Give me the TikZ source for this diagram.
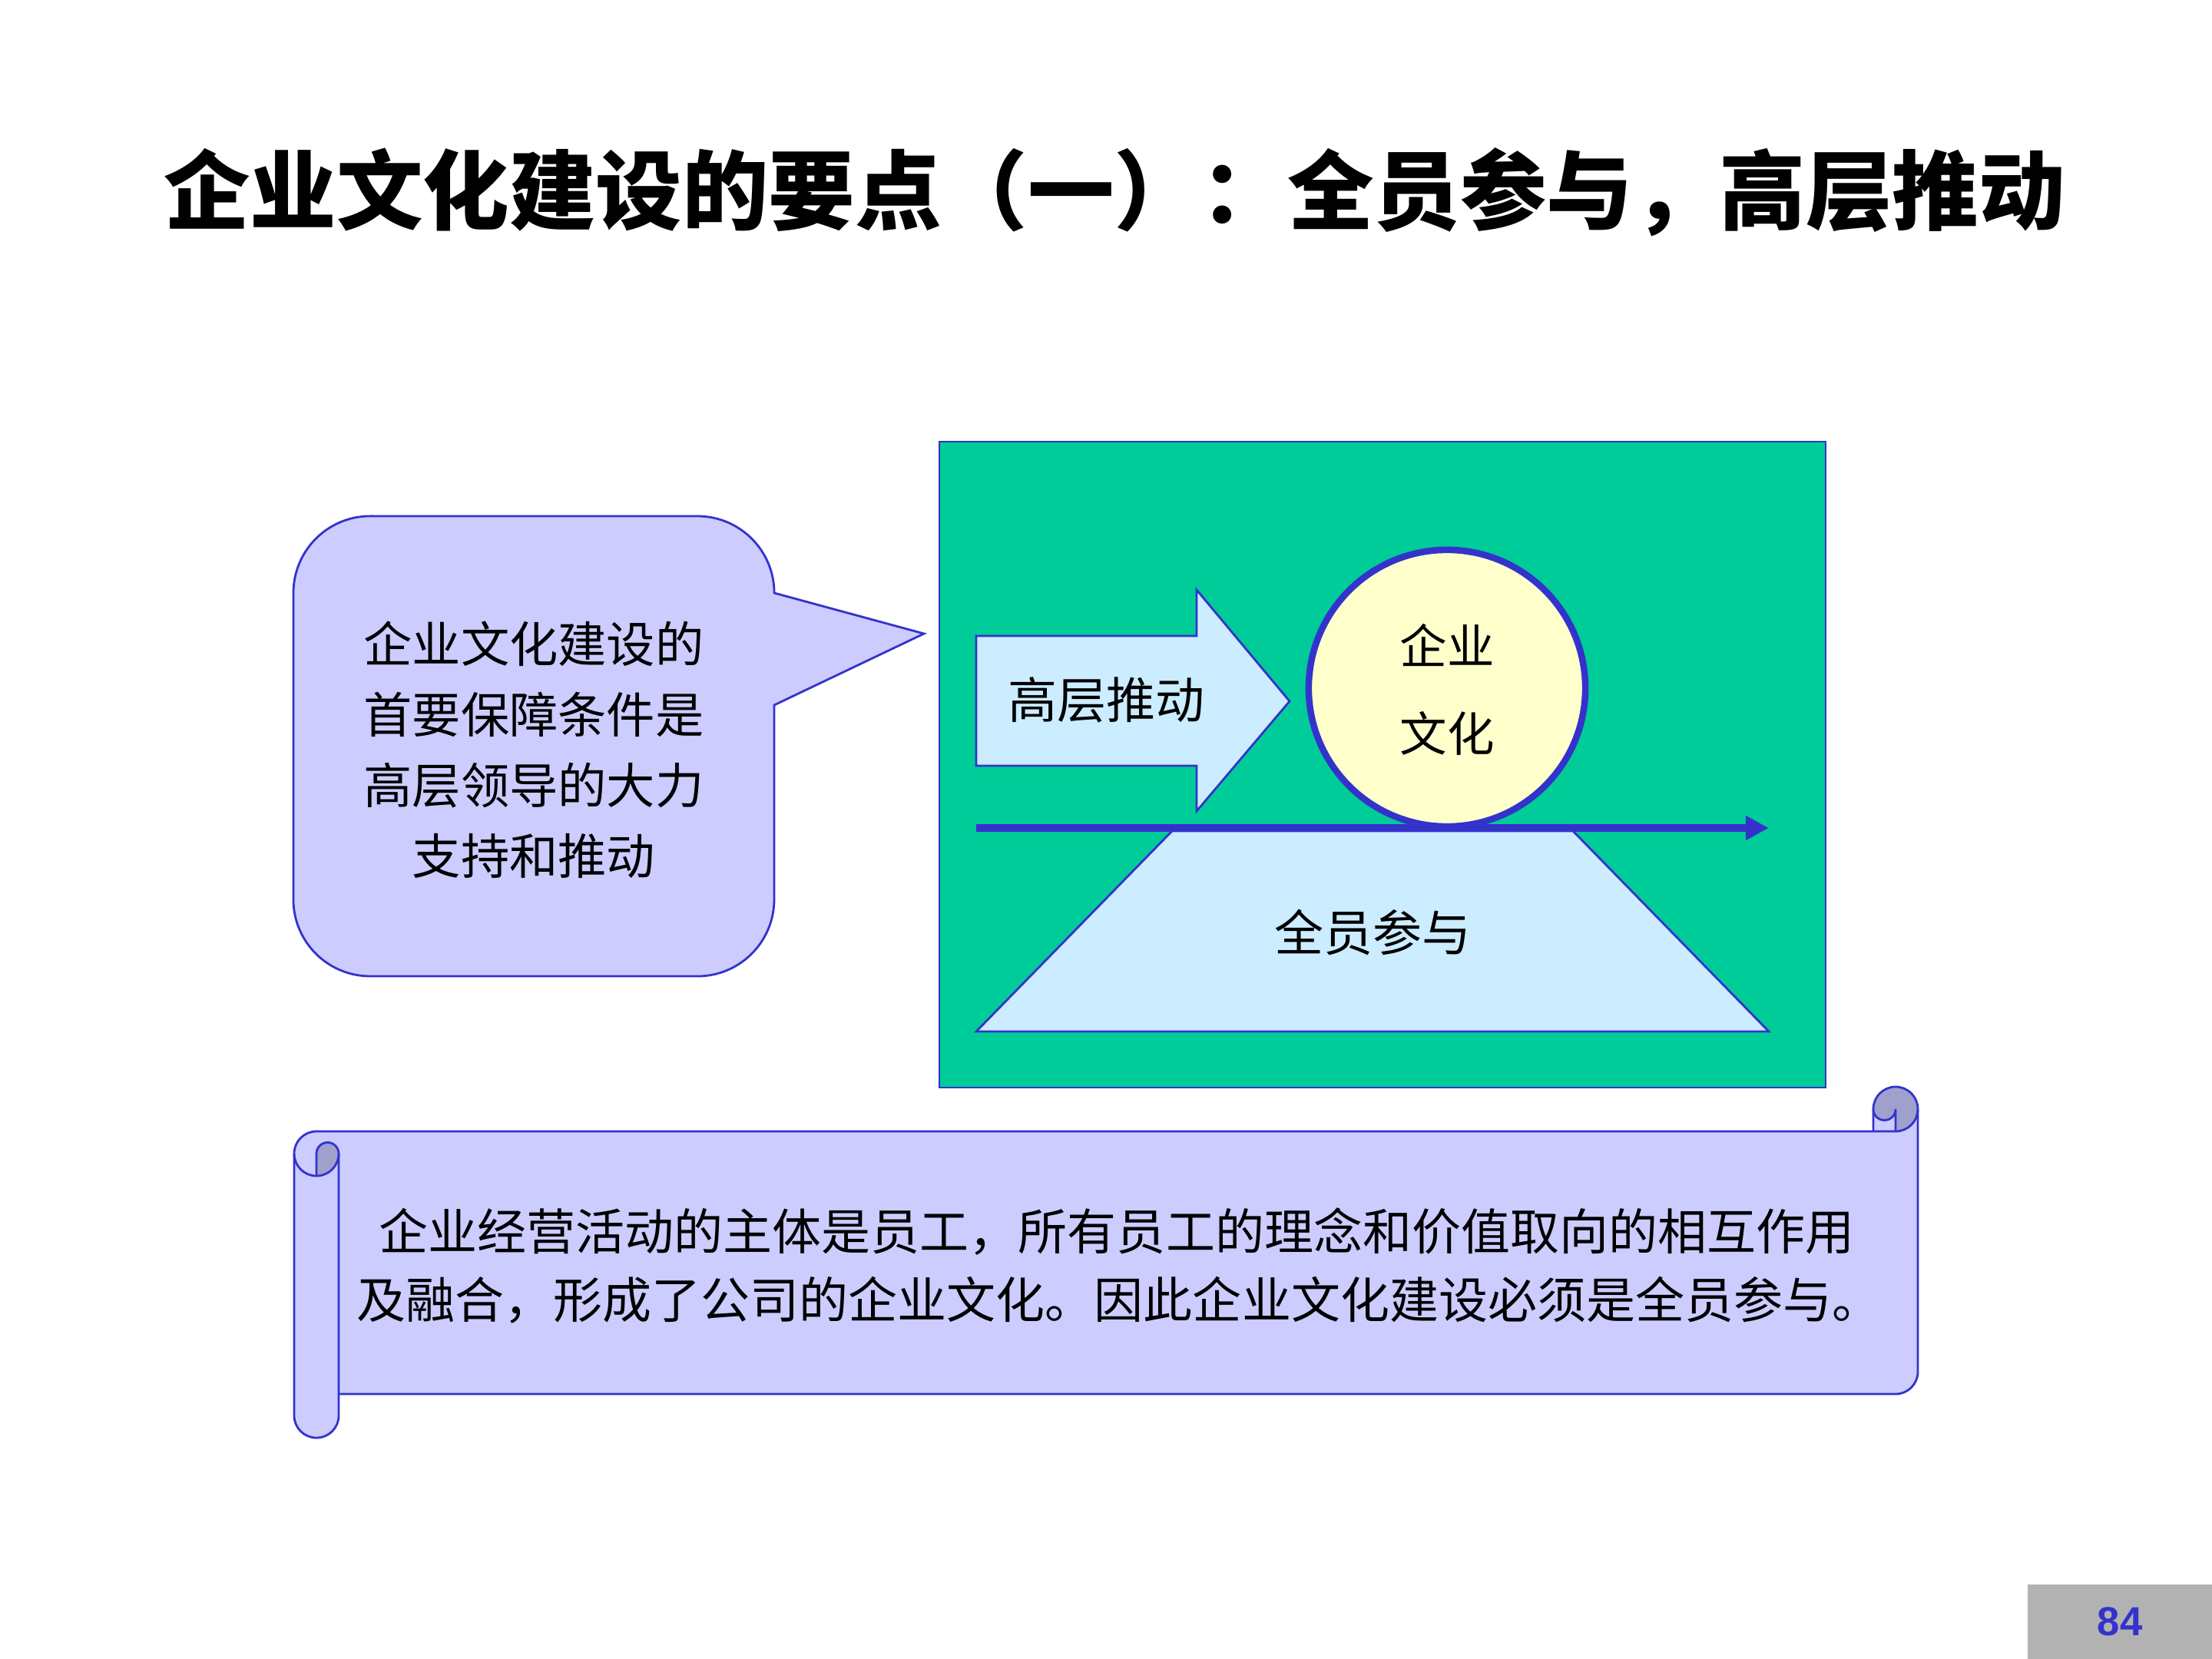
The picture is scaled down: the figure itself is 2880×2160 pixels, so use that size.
\documentclass[tikz,border=0pt]{standalone}
\usepackage{fontspec}
\newfontfamily\cjk{Noto Sans CJK SC}
\newfontfamily\numfont{Liberation Sans}
\usetikzlibrary{arrows.meta}
\definecolor{bord}{HTML}{3333CC}
\definecolor{lav}{HTML}{CCCCFF}
\definecolor{lavdark}{HTML}{A0A0CC}
\definecolor{grn}{HTML}{00CC99}
\definecolor{lblue}{HTML}{CCECFF}
\definecolor{cream}{HTML}{FFFFCC}
\definecolor{pgray}{HTML}{B2B2B2}
\tikzset{
  thinb/.style={draw=bord, line width=0.8pt, line join=miter},
  bodytext/.style={font=\cjk\fontsize{18.2pt}{26pt}\selectfont, text=black, align=center, inner sep=0pt},
}
\begin{document}
\begin{tikzpicture}[x=0.01cm, y=-0.01cm]
\useasboundingbox (0,0) rectangle (2880,2160);
% title
\node[font=\cjk\bfseries\fontsize{32pt}{36pt}\selectfont, inner sep=0pt] (title) at (1451,250) {企业文化建设的要点（一）：全员参与，高层推动};

% speech bubble
\draw[thinb, fill=lav] (482,672) -- (908,672) arc[start angle=90,end angle=0,radius=1cm]
  -- (1203,825) -- (1008,918) -- (1008,1171) arc[start angle=0,end angle=-90,radius=1cm]
  -- (482,1271) arc[start angle=-90,end angle=-180,radius=1cm]
  -- (382,772) arc[start angle=180,end angle=90,radius=1cm] -- cycle;
\node[bodytext, font=\cjk\fontsize{18pt}{26.1pt}\selectfont] (bubbletext) at (695,976) {企业文化建设的\\首要保障条件是\\高层领导的大力\\支持和推动};

% green panel
\draw[thinb, fill=grn] (1223,575) rectangle (2377,1416);
% trapezoid
\draw[thinb, fill=lblue] (1526,1082) -- (2048,1082) -- (2303,1343) -- (1271,1343) -- cycle;
\node[bodytext] (participate) at (1787,1214) {全员参与};
% block arrow
\draw[thinb, fill=lblue] (1271,828) -- (1558,828) -- (1558,768) -- (1679,913) -- (1558,1056) -- (1558,997) -- (1271,997) -- cycle;
\node[bodytext] (push) at (1440,911) {高层推动};
% horizontal axis arrow
\coordinate (axisA) at (1271,1078);
\coordinate (axisB) at (2303,1078);
\draw[draw=bord, line width=0.1cm, -{Triangle[length=0.3cm,width=0.3cm]}] (axisA) -- (axisB);
% circle
\node[circle, draw=bord, line width=0.085cm, fill=cream, minimum size=3.6cm, inner sep=0pt] (culture) at (1884,896) {};
\node[bodytext, font=\cjk\fontsize{17.5pt}{32.4pt}\selectfont] (culturetext) at (1884,898) {企业\\文化};

% scroll
\fill[lav] (412,1473) -- (2439,1473) -- (2439,1444) arc[start angle=180,end angle=0,radius=0.29cm]
  -- (2497,1786) arc[start angle=0,end angle=-90,radius=0.29cm] -- (441,1815) -- (441,1843)
  arc[start angle=0,end angle=-180,radius=0.29cm] -- (383,1502) arc[start angle=180,end angle=90,radius=0.29cm] -- cycle;
% dark curls
\fill[lavdark] (412,1531) -- (412,1502) arc[start angle=180,end angle=0,radius=0.145cm]
  arc[start angle=0,end angle=-90,radius=0.29cm] -- cycle;
\fill[lavdark] (2439,1444) arc[start angle=180,end angle=0,radius=0.29cm]
  arc[start angle=0,end angle=-90,radius=0.29cm] -- (2468,1444)
  arc[start angle=0,end angle=-180,radius=0.145cm] -- cycle;
% outlines
\draw[thinb] (2468,1473) -- (412,1473) arc[start angle=90,end angle=180,radius=0.29cm]
  -- (383,1843) arc[start angle=180,end angle=360,radius=0.29cm] -- (441,1502);
\draw[thinb] (383,1502) arc[start angle=180,end angle=360,radius=0.29cm];
\draw[thinb] (412,1531) -- (412,1502) arc[start angle=180,end angle=0,radius=0.145cm];
\draw[thinb] (441,1815) -- (2468,1815) arc[start angle=-90,end angle=0,radius=0.29cm] -- (2497,1444);
\draw[thinb] (2439,1473) -- (2439,1444) arc[start angle=180,end angle=0,radius=0.29cm]
  arc[start angle=0,end angle=-90,radius=0.29cm];
\draw[thinb] (2439,1444) arc[start angle=180,end angle=360,radius=0.145cm] -- (2468,1473);
\node[bodytext] (scroll1) at (1454,1603) {企业经营活动的主体是员工，所有员工的理念和价值取向的相互作用};
\node[bodytext] (scroll2) at (1457,1693) {及融合，形成了公司的企业文化。因此企业文化建设必须是全员参与。};

% page number
\fill[pgray] (2640,2063) rectangle (2880,2160);
\node[font=\numfont\bfseries\fontsize{15pt}{18pt}\selectfont, text=bord, inner sep=0pt] (pagenum) at (2760,2111) {84};
\end{tikzpicture}
\end{document}
